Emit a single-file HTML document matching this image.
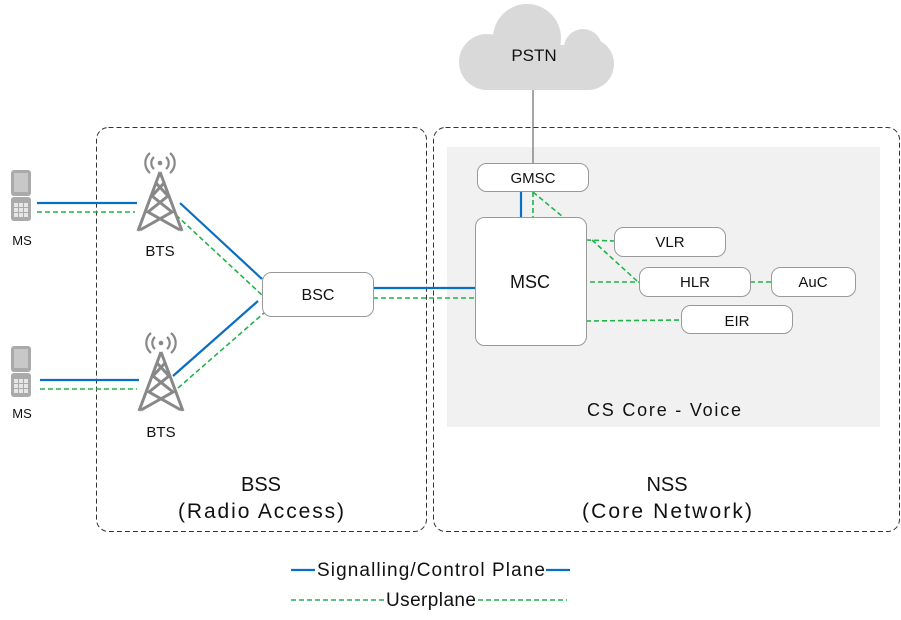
<!DOCTYPE html>
<html><head><style>
body{margin:0;background:#fff;}
svg{display:block;font-family:"Liberation Sans",sans-serif;}
</style></head><body>
<svg width="901" height="620" viewBox="0 0 901 620" xmlns="http://www.w3.org/2000/svg">
<defs>
<g id="tower">
  <circle cx="0" cy="-9" r="2.3" fill="#888"/>
  <path d="M-6,-15 A8,8 0 0,0 -6,-3 M6,-15 A8,8 0 0,1 6,-3 M-10,-19 A13,13 0 0,0 -10,1 M10,-19 A13,13 0 0,1 10,1" fill="none" stroke="#888" stroke-width="2.2"/>
  <path d="M0,0 L-22,59 M0,0 L22,59 M-4,11 L8,24 L-12,40 L20,58 M4,11 L-8,24 L12,40 L-20,58" fill="none" stroke="#888" stroke-width="3"/>
</g>
<g id="phone">
  <rect x="0" y="0" width="20" height="26" rx="3" fill="#aaa"/>
  <rect x="3" y="3" width="14" height="19" rx="1" fill="#c8c8c8"/>
  <rect x="0" y="27" width="20" height="24" rx="3" fill="#aaa"/>
  <g fill="#e6e6e6"><rect x="3" y="33" width="4" height="4"/><rect x="8" y="33" width="4" height="4"/><rect x="13" y="33" width="4" height="4"/><rect x="3" y="38" width="4" height="4"/><rect x="8" y="38" width="4" height="4"/><rect x="13" y="38" width="4" height="4"/><rect x="3" y="43" width="4" height="4"/><rect x="8" y="43" width="4" height="4"/><rect x="13" y="43" width="4" height="4"/></g>
</g>
</defs>
<rect x="447" y="147" width="433" height="280" fill="#f1f1f1"/>
<rect x="96.5" y="127.5" width="330" height="404" rx="12" fill="none" stroke="#333" stroke-dasharray="5,3"/>
<rect x="433.5" y="127.5" width="466" height="404" rx="12" fill="none" stroke="#333" stroke-dasharray="5,3"/>
<g fill="#d9d9d9">
<circle cx="487" cy="62" r="28"/>
<circle cx="527" cy="38" r="34"/>
<circle cx="583" cy="48" r="19"/>
<circle cx="588" cy="64" r="26"/>
<rect x="487" y="45" width="101" height="45"/>
</g>
<text x="534" y="61" font-size="17" text-anchor="middle" fill="#111">PSTN</text>
<line x1="533" y1="90" x2="533" y2="163" stroke="#777" stroke-width="1.3"/>
<g stroke="#0a6fc2" stroke-width="2.2" fill="none">
<line x1="37" y1="203" x2="137" y2="203"/>
<line x1="40" y1="380" x2="139" y2="380"/>
<line x1="180" y1="203" x2="262" y2="279"/>
<line x1="173" y1="376" x2="258" y2="301"/>
<line x1="373" y1="288" x2="475" y2="288"/>
<line x1="521" y1="192" x2="521" y2="217"/>
<line x1="291" y1="570" x2="315" y2="570"/>
<line x1="546" y1="570" x2="570" y2="570"/>
</g>
<g stroke="#22b24c" stroke-width="1.6" stroke-dasharray="5,3" fill="none">
<line x1="37" y1="212" x2="135" y2="212"/>
<line x1="40" y1="389" x2="137" y2="389"/>
<line x1="176" y1="215" x2="262" y2="295"/>
<line x1="178" y1="388" x2="264" y2="313"/>
<line x1="373" y1="298" x2="475" y2="298"/>
<line x1="533" y1="192" x2="533" y2="217"/>
<line x1="533" y1="192" x2="563" y2="217"/>
<line x1="586" y1="240" x2="614" y2="241"/>
<line x1="592" y1="240" x2="637" y2="281"/>
<line x1="590" y1="282" x2="639" y2="282"/>
<line x1="750" y1="282" x2="771" y2="282"/>
<line x1="586" y1="321" x2="681" y2="320"/>
<line x1="291" y1="600" x2="384" y2="600"/>
<line x1="478" y1="600" x2="567" y2="600"/>
</g>
<g fill="#fff" stroke="#999" stroke-width="1">
<rect x="262.5" y="272.5" width="111" height="44" rx="9"/>
<rect x="477.5" y="163.5" width="111" height="28" rx="9"/>
<rect x="475.5" y="217.5" width="111" height="128" rx="9"/>
<rect x="614.5" y="227.5" width="111" height="29" rx="9"/>
<rect x="639.5" y="267.5" width="111" height="29" rx="9"/>
<rect x="771.5" y="267.5" width="84" height="29" rx="9"/>
<rect x="681.5" y="305.5" width="111" height="28" rx="9"/>
</g>
<g fill="#111" text-anchor="middle" font-size="15">
<text x="318" y="300" font-size="16">BSC</text>
<text x="533" y="183">GMSC</text>
<text x="530" y="288" font-size="18">MSC</text>
<text x="670" y="247">VLR</text>
<text x="695" y="287">HLR</text>
<text x="813" y="287">AuC</text>
<text x="737" y="326">EIR</text>
<text x="664" y="416" font-size="18" textLength="154">CS Core - Voice</text>
<text x="160" y="256" font-size="15">BTS</text>
<text x="161" y="437" font-size="15">BTS</text>
<text x="22" y="245" font-size="13">MS</text>
<text x="22" y="418" font-size="13">MS</text>
<text x="261" y="491" font-size="20">BSS</text>
<text x="261" y="518" font-size="21" textLength="166">(Radio Access)</text>
<text x="667" y="491" font-size="20">NSS</text>
<text x="667" y="518" font-size="21" textLength="170">(Core Network)</text>
<text x="431" y="576" font-size="19" textLength="228">Signalling/Control Plane</text>
<text x="431" y="606" font-size="19" textLength="90">Userplane</text>
</g>
<use href="#tower" x="160" y="172"/>
<use href="#tower" x="161" y="352"/>
<use href="#phone" x="11" y="170"/>
<use href="#phone" x="11" y="346"/>
</svg>
</body></html>
